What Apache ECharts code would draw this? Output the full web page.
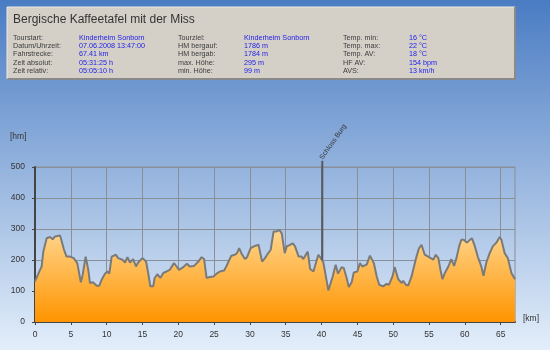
<!DOCTYPE html>
<html>
<head>
<meta charset="utf-8">
<script src="https://cdn.jsdelivr.net/npm/echarts@6/dist/echarts.min.js"></script>
<style>
html,body{margin:0;padding:0;width:550px;height:350px;overflow:hidden;}
#c{width:550px;height:350px;}
</style>
</head>
<body>
<div id="c"></div>
<script>
// ---- data ----
var title = 'Bergische Kaffeetafel mit der Miss';
var infoLabels1 = ['Tourstart:', 'Datum/Uhrzeit:', 'Fahrstrecke:', 'Zeit absolut:', 'Zeit relativ:'];
var infoValues1 = ['Kinderheim Sonborn', '07.06.2008 13:47:00', '67.41 km', '05:31:25 h', '05:05:10 h'];
var infoLabels2 = ['Tourziel:', 'HM bergauf:', 'HM bergab:', 'max. Höhe:', 'min. Höhe:'];
var infoValues2 = ['Kinderheim Sonborn', '1786 m', '1784 m', '295 m', '99 m'];
var infoLabels3 = ['Temp. min:', 'Temp. max:', 'Temp. AV:', 'HF AV:', 'AVS:'];
var infoValues3 = ['16 °C', '22 °C', '18 °C', '154 bpm', '13 km/h'];

var km = [0,0.23,0.7,0.93,1.16,1.63,2.1,2.47,2.8,3.5,3.7,4.05,4.4,4.9,5.4,5.9,6.4,6.65,7.07,7.44,7.67,8.1,8.6,8.98,9.3,9.77,10.1,10.37,10.7,10.9,11.3,11.6,11.86,12.2,12.56,12.9,13.26,13.7,14.1,14.4,15.0,15.5,15.8,16.1,16.5,16.7,17.07,17.5,17.9,18.37,18.8,19.4,19.77,20.1,20.7,21.2,21.6,22.2,22.8,23.26,23.6,23.95,24.4,24.9,25.35,25.8,26.4,26.7,27.4,27.9,28.2,28.5,28.8,29.3,29.6,30.1,30.56,31.2,31.4,31.7,32.1,32.4,32.9,33.3,33.75,34.1,34.44,34.6,34.86,35.14,35.6,35.98,36.3,36.8,37.2,37.46,37.8,38.07,38.4,38.86,39.1,39.55,39.9,40.25,40.6,40.95,41.2,41.55,41.97,42.3,42.8,43.1,43.5,43.8,44.2,44.5,44.99,45.36,45.7,46.3,46.75,47,47.3,47.7,48.05,48.6,49.07,49.4,49.9,50.2,50.7,51.2,51.4,51.77,52.1,52.56,53.25,53.6,53.95,54.4,55.0,55.58,55.95,56.3,56.6,56.88,57.2,57.7,58.1,58.5,58.83,59.2,59.5,59.85,60.3,60.7,61.0,61.4,61.8,62.3,62.6,63.0,63.47,63.9,64.4,64.86,65.1,65.56,66.0,66.5,67];
var elevation = [131,136,168,179,227,270,274,267,276,279,276,233,211,211,206,190,128,152,211,168,126,128,117,117,136,156,163,156,211,206,217,206,211,201,192,209,192,203,179,192,206,195,158,115,115,142,154,142,158,163,168,190,179,168,177,188,179,181,195,209,203,142,145,147,156,163,166,179,214,217,222,238,222,203,209,238,244,249,244,195,206,217,233,292,292,297,286,286,222,244,249,254,244,211,211,203,217,227,171,163,163,217,206,192,147,102,104,147,185,156,177,174,142,113,128,160,163,190,179,185,214,217,190,147,120,115,123,120,147,177,138,126,133,120,118,147,211,238,249,217,209,201,217,206,168,138,158,179,203,181,206,244,265,265,256,265,270,244,211,179,149,192,222,244,256,274,265,222,206,158,138];

var xTicks = [0,5,10,15,20,25,30,35,40,45,50,55,60,65];
var yTicks = [0,100,200,300,400,500];
var waypointName = 'Schloss Burg';
var waypointKm = 40.1;
var waypointElev = 200;
var xUnit = '[km]';
var yUnit = '[hm]';

// ---- chart ----
var chart = echarts.init(document.getElementById('c'), null, {renderer: 'canvas'});
var FONT = 'Liberation Sans, Arial, sans-serif';

var pts = km.map(function (k, i) { return [k, elevation[i]]; });

var graphics = [];
// header box
graphics.push({type:'rect', shape:{x:7, y:7, width:508, height:72}, style:{fill:'#d4d0c8'}, z:10});
graphics.push({type:'polyline', shape:{points:[[7,79],[7,7],[515,7]]}, style:{stroke:'#ece9e2', lineWidth:1, fill:null}, z:11});
graphics.push({type:'polyline', shape:{points:[[7.5,79],[515,79],[515,7]]}, style:{stroke:'#8a8a8a', lineWidth:2, fill:null}, z:11});
graphics.push({type:'text', x:13, y:20, style:{text:title, font:'12px ' + FONT, fill:'#333333', textVerticalAlign:'middle'}, z:12});

var rowY = [37.7, 46, 54.3, 62.7, 71];
function addCol(labels, values, lx, vx) {
  labels.forEach(function (t, i) {
    graphics.push({type:'text', x:lx, y:rowY[i], style:{text:t, font:'7.2px ' + FONT, fill:'#3c3c3c', textVerticalAlign:'middle'}, z:12});
    graphics.push({type:'text', x:vx, y:rowY[i], style:{text:values[i], font:'7.2px ' + FONT, fill:'#2020e8', textVerticalAlign:'middle'}, z:12});
  });
}
addCol(infoLabels1, infoValues1, 13, 79);
addCol(infoLabels2, infoValues2, 178, 244);
addCol(infoLabels3, infoValues3, 343, 409);

graphics.push({type:'text', x:10, y:137, style:{text:yUnit, font:'8.5px ' + FONT, fill:'#333', textVerticalAlign:'middle'}, z:12});
graphics.push({type:'text', x:523, y:319, style:{text:xUnit, font:'8.5px ' + FONT, fill:'#333', textVerticalAlign:'middle'}, z:12});

var option = {
  animation: false,
  backgroundColor: new echarts.graphic.LinearGradient(0, 0, 0, 1, [
    {offset: 0, color: '#4a7cc3'},
    {offset: 1, color: '#e3eefa'}
  ]),
  grid: {left: 35, right: 35, top: 167, bottom: 28, show: true, borderColor: '#8a8e96', borderWidth: 1, backgroundColor: 'transparent'},
  xAxis: {
    type: 'value', min: 0, max: 67, interval: 5,
    axisLine: {show: true, onZero: false, lineStyle: {color: '#444', width: 2}},
    axisTick: {show: true, length: 3, lineStyle: {color: '#444'}, customValues: xTicks},
    axisLabel: {color: '#333', fontSize: 8.5, fontFamily: FONT, margin: 8, customValues: xTicks},
    splitLine: {show: true, lineStyle: {color: '#8a8e96', width: 1}}
  },
  yAxis: {
    type: 'value', min: 0, max: 500, interval: 100,
    axisLine: {show: true, lineStyle: {color: '#444', width: 2}},
    axisTick: {show: true, length: 3, lineStyle: {color: '#444'}},
    axisLabel: {color: '#333', fontSize: 8.5, fontFamily: FONT, margin: 10},
    splitLine: {show: true, lineStyle: {color: '#8a8e96', width: 1}}
  },
  series: [{
    type: 'line',
    data: pts,
    symbol: 'none',
    smooth: false,
    lineStyle: {color: '#7a7a7a', width: 2},
    areaStyle: {
      opacity: 1,
      color: new echarts.graphic.LinearGradient(0, 0, 0, 1, [
        {offset: 0, color: '#ffd68e'},
        {offset: 1, color: '#ff9400'}
      ])
    },
    z: 3
  }],
  graphic: graphics
};
chart.setOption(option);

// waypoint annotation positioned through the axis scales
var pTop = chart.convertToPixel({gridIndex: 0}, [waypointKm, 520]);
var pBot = chart.convertToPixel({gridIndex: 0}, [waypointKm, waypointElev]);
graphics.push({type:'line', shape:{x1:pTop[0], y1:pTop[1], x2:pBot[0], y2:pBot[1]}, style:{stroke:'#555a60', lineWidth:2}, z:20});
graphics.push({type:'text', x:pTop[0] - 1, y:pTop[1] - 2, rotation: 55 * Math.PI / 180,
  style:{text:waypointName, font:'7px ' + FONT, fill:'#333', textVerticalAlign:'middle', textAlign:'left'}, z:20});
chart.setOption({graphic: graphics}, {replaceMerge: ['graphic']});
</script>
</body>
</html>
